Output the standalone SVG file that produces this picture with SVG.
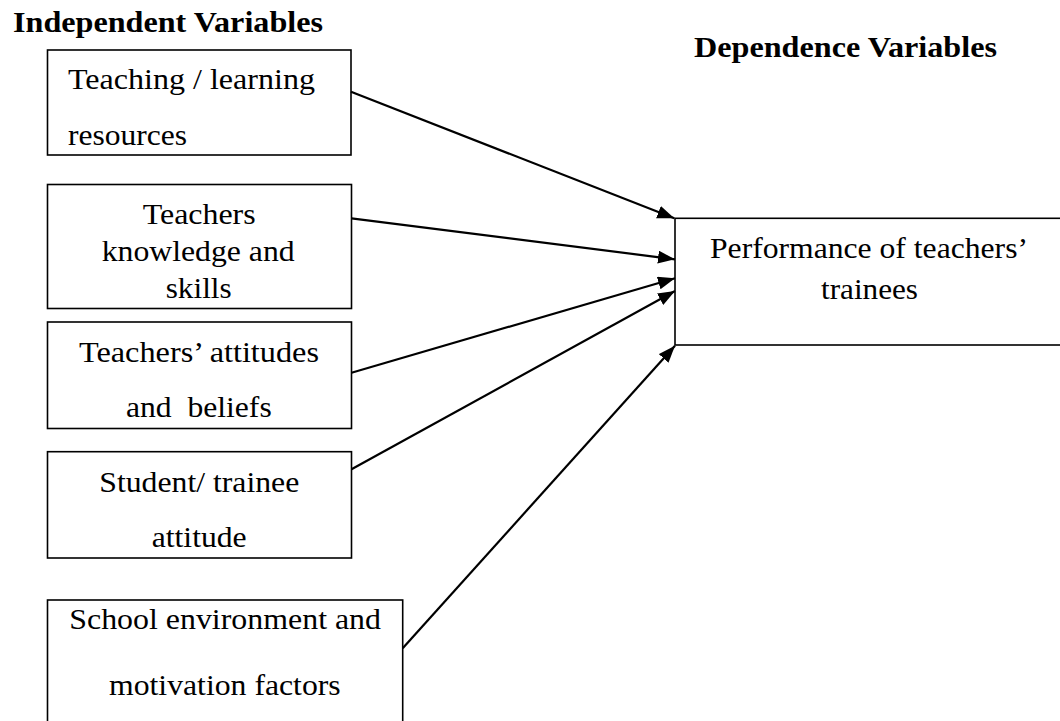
<svg xmlns="http://www.w3.org/2000/svg" width="1060" height="721" viewBox="0 0 1060 721">
<style>
.box{fill:#fff;stroke:#000;stroke-width:1.6}
.t{font-family:'Liberation Serif','Times New Roman',serif;font-size:30px;fill:#000}
.h{font-family:'Liberation Serif','Times New Roman',serif;font-size:30px;font-weight:bold;fill:#000}
.c{stroke:#000;stroke-width:2.2;fill:none;marker-end:url(#ah)}
</style>
<defs>
<marker id="ah" markerUnits="userSpaceOnUse" markerWidth="18" markerHeight="14" refX="17" refY="6.5" orient="auto">
<path d="M0,0 L17,6.5 L0,13 z" fill="#000"/>
</marker>
</defs>
<rect width="1060" height="721" fill="#fff"/>
<text class="h" x="13" y="32" textLength="310" lengthAdjust="spacingAndGlyphs">Independent Variables</text>
<text class="h" x="694" y="57" textLength="303" lengthAdjust="spacingAndGlyphs">Dependence Variables</text>
<g id="n1">
<rect class="box" x="47.5" y="50" width="303.5" height="105"/>
<text class="t" x="68" y="89" textLength="247" lengthAdjust="spacingAndGlyphs">Teaching / learning</text>
<text class="t" x="68" y="145" textLength="119" lengthAdjust="spacingAndGlyphs">resources</text>
</g>
<g id="n2">
<rect class="box" x="47.5" y="184.5" width="304" height="124"/>
<text class="t" x="142.7" y="224" textLength="113" lengthAdjust="spacingAndGlyphs">Teachers</text>
<text class="t" x="101.7" y="260.7" textLength="193" lengthAdjust="spacingAndGlyphs">knowledge and</text>
<text class="t" x="165.7" y="297.7" textLength="66" lengthAdjust="spacingAndGlyphs">skills</text>
</g>
<g id="n3">
<rect class="box" x="47.5" y="322" width="304" height="106.5"/>
<text class="t" x="79" y="361.7" textLength="240" lengthAdjust="spacingAndGlyphs">Teachers’ attitudes</text>
<text class="t" x="126" y="416.7" textLength="145.7" lengthAdjust="spacingAndGlyphs">and&#160; beliefs</text>
</g>
<g id="n4">
<rect class="box" x="47.5" y="451.7" width="304" height="106.3"/>
<text class="t" x="99.3" y="491.7" textLength="200" lengthAdjust="spacingAndGlyphs">Student/ trainee</text>
<text class="t" x="151.7" y="546.7" textLength="95" lengthAdjust="spacingAndGlyphs">attitude</text>
</g>
<g id="n5">
<rect class="box" x="47.5" y="600" width="355.2" height="140"/>
<text class="t" x="69.3" y="629.3" textLength="311.7" lengthAdjust="spacingAndGlyphs">School environment and</text>
<text class="t" x="109" y="695" textLength="231.7" lengthAdjust="spacingAndGlyphs">motivation factors</text>
</g>
<g id="n6">
<rect class="box" x="675" y="218.3" width="400" height="126.7"/>
<text class="t" x="710" y="258.3" textLength="318" lengthAdjust="spacingAndGlyphs">Performance of teachers’</text>
<text class="t" x="821" y="299.3" textLength="97" lengthAdjust="spacingAndGlyphs">trainees</text>
</g>
<g id="connectors">
<line class="c" x1="351" y1="91.7" x2="674.3" y2="218.3"/>
<line class="c" x1="351.5" y1="218.3" x2="675" y2="259.3"/>
<line class="c" x1="351.5" y1="372.7" x2="675" y2="278.3"/>
<line class="c" x1="351.5" y1="469.3" x2="675" y2="291"/>
<line class="c" x1="402.7" y1="648.3" x2="675" y2="345.7"/>
</g>
</svg>
